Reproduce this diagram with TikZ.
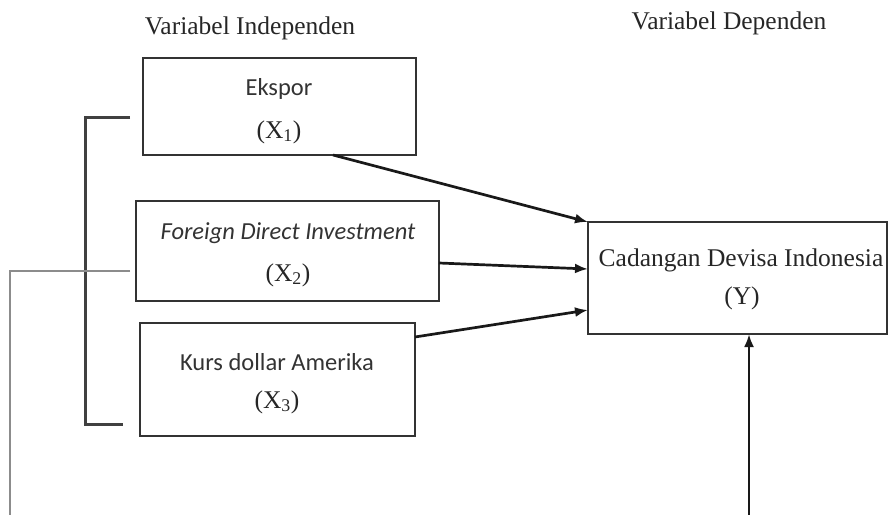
\documentclass[tikz,border=0pt]{standalone}
\usepackage{fontspec}
\setmainfont{Liberation Serif}
\newfontfamily\calib{Carlito}
\usetikzlibrary{arrows.meta,calc}
\tikzset{
  box/.style={draw=black!80, line width=2.3pt, inner sep=0pt, outer sep=0pt},
  serif/.style={font=\fontsize{25.5}{28}\selectfont, inner sep=0pt, text=black!85},
  sans/.style={font=\calib\fontsize{24.5}{28}\selectfont, inner sep=0pt, text=black!80},
  arr/.style={draw=black!90, line width=2.7pt, -{Latex[length=13pt,width=10pt]}},
  brk/.style={draw=black!75, line width=3pt},
  thin/.style={draw=black!45, line width=1.8pt}
}
\begin{document}
\begin{tikzpicture}[x=1pt,y=-1pt]
\useasboundingbox (0,0) rectangle (888,514);
% boxes
\node[box, minimum width=273pt, minimum height=97pt] (x1) at (279.5,106.5) {};
\node[box, minimum width=303pt, minimum height=100pt] (x2) at (287.5,251) {};
\node[box, minimum width=275pt, minimum height=113pt] (x3) at (277.5,379.5) {};
\node[box, minimum width=299pt, minimum height=112pt] (yb) at (737.5,278) {};
% headings
\node[serif] (hind) at (250,28) {Variabel Independen};
\node[serif] (hdep) at (729,23) {Variabel Dependen};
% texts
\node[sans] (t1a) at (279,89) {Ekspor};
\node[serif] (t1b) at (279,132) {(X\textsubscript{1})};
\node[sans, font=\calib\itshape\fontsize{24.5}{28}\selectfont] (t2a) at (288,233) {Foreign Direct Investment};
\node[serif] (t2b) at (288,275) {(X\textsubscript{2})};
\node[sans] (t3a) at (277,362) {Kurs dollar Amerika};
\node[serif] (t3b) at (277,402) {(X\textsubscript{3})};
\node[serif] (ty1) at (741,260) {Cadangan Devisa Indonesia};
\node[serif] (ty2) at (742,298) {(Y)};
% bracket
\coordinate (b1) at (130,117);
\coordinate (b2) at (85,117);
\coordinate (b3) at (85,424);
\coordinate (b4) at (123,424);
\draw[brk] (b1) -- (b2) -- (b3) -- (b4);
% thin gray line
\coordinate (g1) at (130,271);
\coordinate (g2) at (10,271);
\coordinate (g3) at (10,516);
\draw[thin] (g1) -- (g2) -- (g3);
% arrows
\draw[arr] ([xshift=53.5pt]x1.south) -- (yb.north west);
\draw[arr] ([yshift=-12pt]x2.east) -- ([yshift=9pt]yb.west);
\draw[arr] ([yshift=42.5pt]x3.east) -- ([yshift=-32pt]yb.west);
\coordinate (bot) at (749,516);
\draw[arr] (bot) -- (bot |- yb.south);
\end{tikzpicture}
\end{document}
